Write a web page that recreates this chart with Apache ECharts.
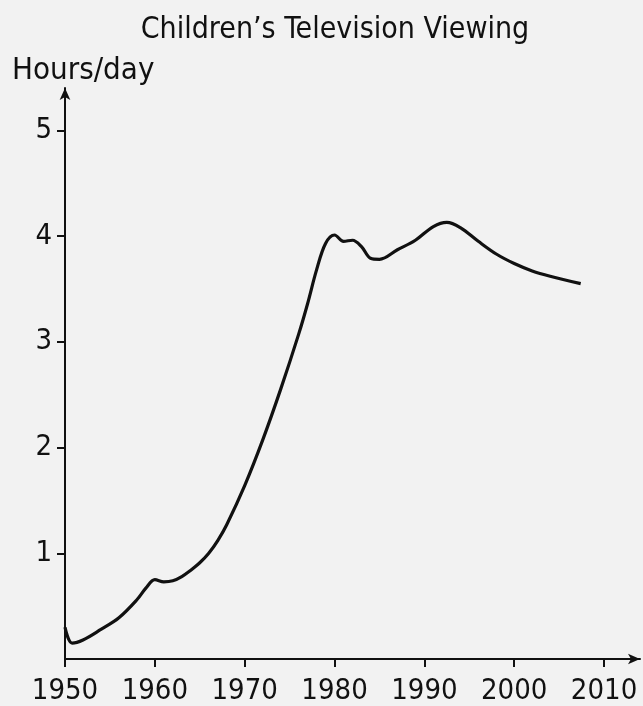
<!DOCTYPE html>
<html>
<head>
<meta charset="utf-8">
<script src="https://cdn.jsdelivr.net/npm/echarts@6/dist/echarts.min.js"></script>
<style>
html,body{margin:0;padding:0;background:#f2f2f2;}
#chart{width:643px;height:706px;}
</style>
</head>
<body>
<div id="chart"></div>
<script>
const title = "Children\u2019s Television Viewing";
const yAxisName = "Hours/day";
const years = [1950, 1950.8, 1952, 1954, 1956, 1958, 1959, 1960, 1961, 1962, 1963, 1964, 1965, 1966, 1967, 1968, 1970, 1972, 1974, 1976, 1977, 1978, 1979, 1980, 1981, 1982, 1983, 1984, 1985, 1987, 1989, 1991, 1992.5, 1994, 1996, 1998, 2000, 2002, 2004, 2007.4];
const hours = [0.30, 0.15, 0.18, 0.28, 0.39, 0.56, 0.67, 0.75, 0.73, 0.74, 0.78, 0.84, 0.91, 1.00, 1.12, 1.27, 1.64, 2.07, 2.55, 3.07, 3.36, 3.68, 3.93, 4.01, 3.95, 3.96, 3.90, 3.79, 3.78, 3.87, 3.96, 4.09, 4.13, 4.08, 3.95, 3.83, 3.74, 3.67, 3.62, 3.55];
const xTicks = [1950, 1960, 1970, 1980, 1990, 2000, 2010];
const yTicks = [1, 2, 3, 4, 5];

const FONT = '"Liberation Sans Narrow", "DejaVu Sans Condensed", sans-serif';
const chart = echarts.init(document.getElementById('chart'));
chart.setOption({
  backgroundColor: '#f2f2f2',
  animation: false,
  title: {
    text: title, left: 330, top: 10, textAlign: 'center',
    textStyle: {fontFamily: FONT, fontSize: 30, fontWeight: 'normal', color: '#111'}
  },
  graphic: [{
    type: 'text', left: 12, top: 55,
    style: {text: yAxisName, fontFamily: FONT, fontSize: 31, fill: '#111'}
  }],
  grid: {left: 65, right: 3, top: 88, bottom: 47, containLabel: false},
  xAxis: {
    type: 'value', min: 1950, max: 2014,
    axisLine: {show: true, lineStyle: {color: '#111', width: 2}, symbol: ['none', 'arrow'], symbolSize: [8, 12]},
    axisTick: {show: true, length: 8, inside: false, lineStyle: {color: '#111', width: 2}, customValues: xTicks},
    axisLabel: {customValues: xTicks, margin: 18, fontFamily: FONT, fontSize: 29, color: '#111', formatter: v => String(v)},
    splitLine: {show: false}
  },
  yAxis: {
    type: 'value', min: 0, max: 5.4,
    axisLine: {show: true, lineStyle: {color: '#111', width: 2}, symbol: ['none', 'arrow'], symbolSize: [8, 12]},
    axisTick: {show: true, length: 8, inside: false, lineStyle: {color: '#111', width: 2}, customValues: yTicks},
    axisLabel: {customValues: yTicks, margin: 13, fontFamily: FONT, fontSize: 29, color: '#111'},
    splitLine: {show: false}
  },
  series: [{
    type: 'line',
    data: years.map((y, i) => [y, hours[i]]),
    smooth: 0.35,
    showSymbol: false,
    lineStyle: {color: '#111', width: 3.2}
  }]
});
</script>
</body>
</html>
